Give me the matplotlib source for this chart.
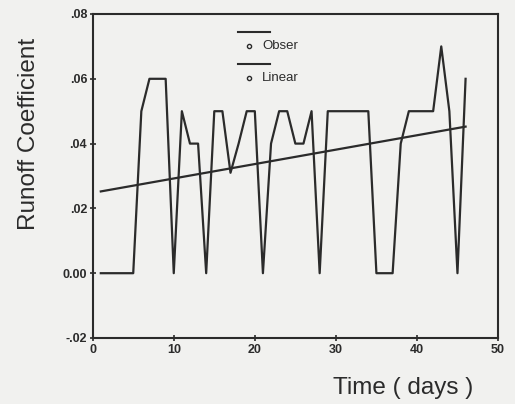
import numpy as np
import matplotlib
matplotlib.use("Agg")
import matplotlib.pyplot as plt

plt.rcParams['font.family'] = ['Liberation Sans', 'DejaVu Sans']

# observed runoff coefficient per day
days = np.arange(1, 47)
runoff = [0.0, 0.0, 0.0, 0.0, 0.0, 0.05, 0.06, 0.06, 0.06, 0.0,
          0.05, 0.04, 0.04, 0.0, 0.05, 0.05, 0.031, 0.04, 0.05, 0.05,
          0.0, 0.04, 0.05, 0.05, 0.04, 0.04, 0.05, 0.0, 0.05, 0.05,
          0.05, 0.05, 0.05, 0.05, 0.0, 0.0, 0.0, 0.04, 0.05, 0.05,
          0.05, 0.05, 0.07, 0.05, 0.0, 0.06]

x_ticks = [0, 10, 20, 30, 40, 50]
y_ticks = [-0.02, 0.0, 0.02, 0.04, 0.06, 0.08]
y_tick_labels = ["-.02", "0.00", ".02", ".04", ".06", ".08"]

bg = '#f1f1ef'
ink = '#2b2b2b'

fig = plt.figure(figsize=(5.15, 4.04), dpi=100, facecolor=bg)
ax = fig.add_axes([92.7 / 515, 1 - 338 / 404, 405.3 / 515, 324 / 404], facecolor=bg)

ax.plot(days, runoff, color=ink, lw=1.6)

# linear fit
coef = np.polyfit(days, runoff, 1)
ax.plot(days, np.polyval(coef, days), color=ink, lw=1.6)

ax.set_xlim(0, 50)
ax.set_ylim(-0.02, 0.08)
ax.set_xticks(x_ticks)
ax.set_yticks(y_ticks)
ax.set_yticklabels(y_tick_labels)
ax.tick_params(direction='inout', length=4, width=1.2, color=ink,
               labelsize=9, labelcolor=ink, pad=2)
for lbl in ax.get_xticklabels() + ax.get_yticklabels():
    lbl.set_fontweight('bold')
for s in ax.spines.values():
    s.set_linewidth(1.5)
    s.set_color(ink)

ax.set_ylabel("Runoff Coefficient", fontsize=17.5, color=ink)
ax.yaxis.set_label_coords(-0.13, 0.63)
ax.set_xlabel("Time ( days )", fontsize=17.5, color=ink)
ax.xaxis.set_label_coords(0.766, -0.12)

# legend in the old plotting-package style: line on one row, marker + name below
tr = ax.transAxes
for i, name in enumerate(["Obser", "Linear"]):
    y0 = 0.944 - i * 0.098
    ax.plot([0.359, 0.437], [y0, y0], color=ink, lw=1.5, transform=tr)
    ax.plot(0.386, y0 - 0.043, 'o', ms=3, mfc='none', mec=ink, mew=1, transform=tr)
    ax.text(0.418, y0 - 0.043, name, fontsize=9.5, color=ink, va='center', transform=tr)

fig.savefig("out.png", dpi=100, facecolor=bg)
